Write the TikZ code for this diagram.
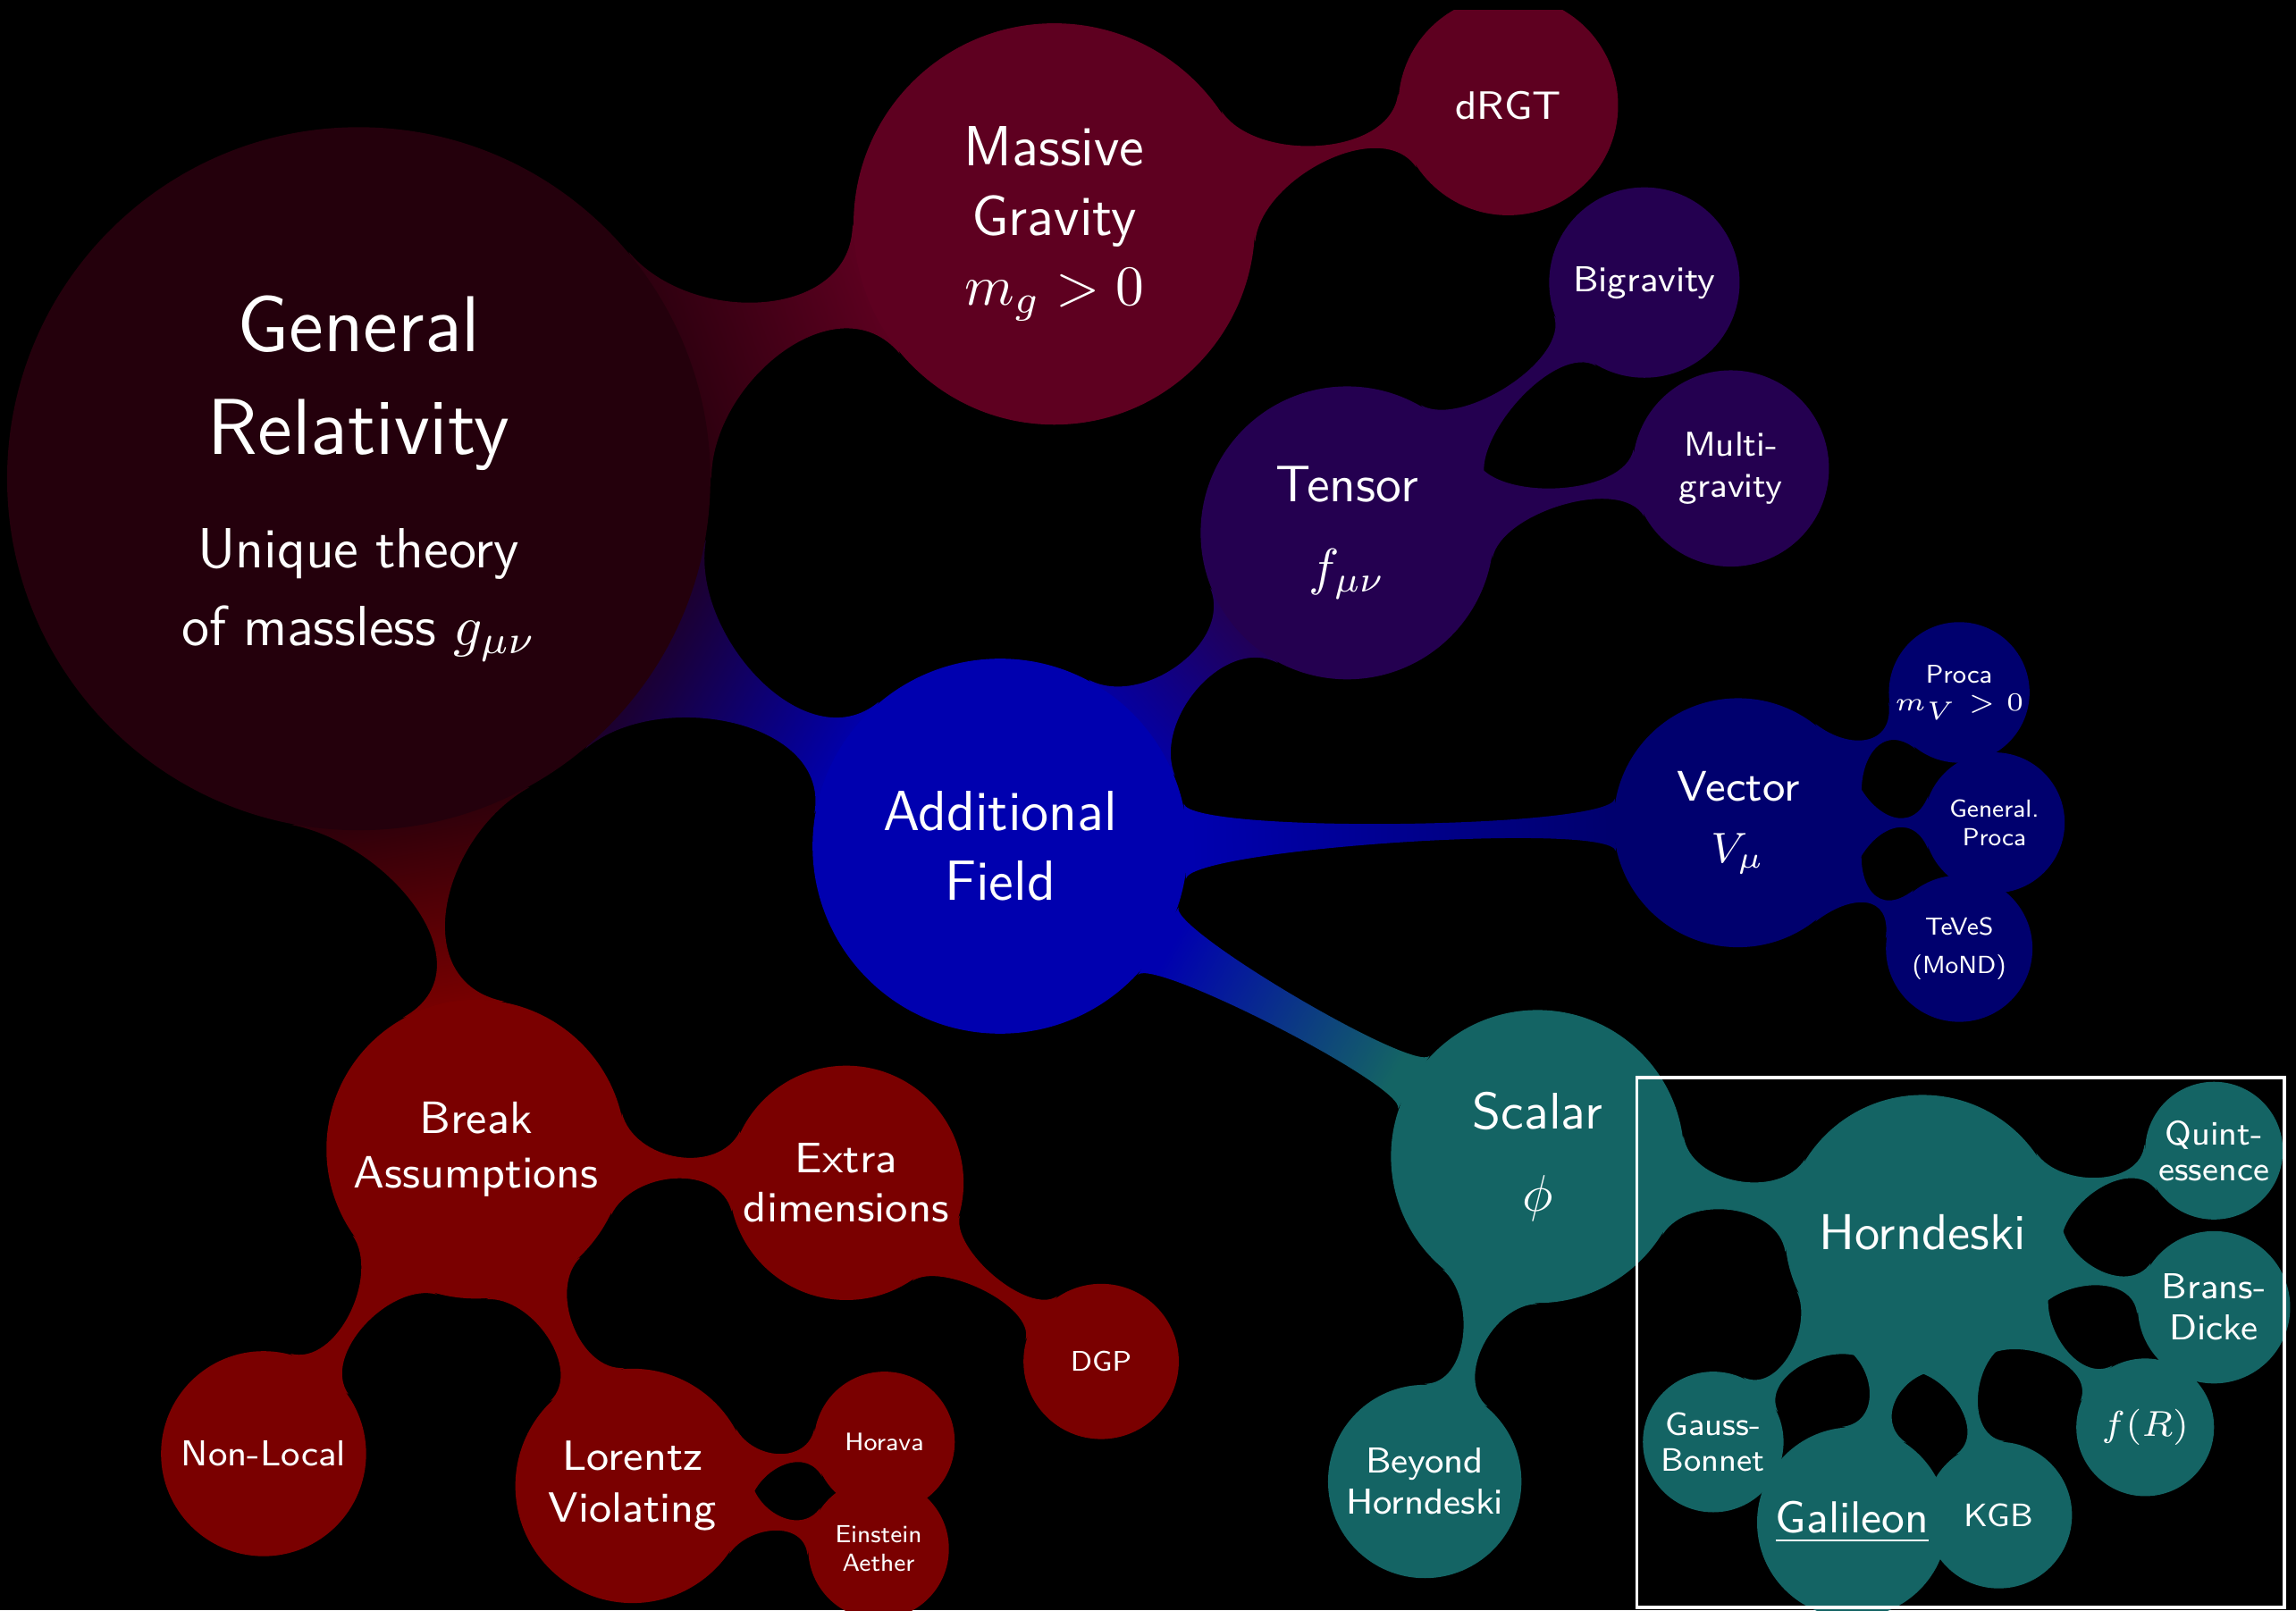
\documentclass[tikz,border=0pt]{standalone}
\IfFileExists{fix-cm.sty}{\usepackage{fix-cm}}{}
\usepackage{fontspec}
\usepackage{tikz}

\pgfdeclarelayer{bg}
\pgfdeclarelayer{fg}
\pgfsetlayers{bg,main,fg}

\definecolor{grcol}{RGB}{36,0,12}
\definecolor{mgcol}{RGB}{94,0,32}
\definecolor{tcol}{RGB}{36,0,80}
\definecolor{afcol}{RGB}{0,0,175}
\definecolor{vcol}{RGB}{0,0,110}
\definecolor{scol}{RGB}{20,100,100}
\definecolor{bcol}{RGB}{122,0,0}

\tikzset{
  bub/.style={circle, fill=#1, text=white, align=center, inner sep=0pt},
  fs/.style 2 args={font=\sffamily\fontsize{#1}{#2}\selectfont},
}

% bar between two circles: from, to, colour from, colour to, spread angle, pull
\newcommand\joint[6]{%
  \pgfmathanglebetweenpoints{\pgfpointanchor{#1}{center}}{\pgfpointanchor{#2}{center}}%
  \let\jt\pgfmathresult
  \pgfmathtruncatemacro\ja{\jt+#5}%
  \pgfmathtruncatemacro\jb{\jt-#5}%
  \pgfmathtruncatemacro\jc{\jt+180-#5}%
  \pgfmathtruncatemacro\jd{\jt+180+#5}%
  \pgfmathsetmacro\js{\jt+90}%
  \path[left color=#3, right color=#4, shading angle=\js]
    (#1.\ja) .. controls +(\ja-90:#6) and +(\jc+90:#6) .. (#2.\jc)
    -- (#2.\jd) .. controls +(\jd-90:#6) and +(\jb+90:#6) .. (#1.\jb)
    -- cycle;
}

\begin{document}
\begin{tikzpicture}[x=0.01cm, y=-0.01cm]
  \useasboundingbox (0,0) rectangle (1568,1100);
  \begin{pgfonlayer}{bg}
    \fill[black] (0,0) rectangle (1568,1100);
  \end{pgfonlayer}

  % root
  \node[bub=grcol, minimum size=4.8cm, text width=4cm, font=\sffamily] (gr) at (245,327)
    {{\fontsize{15.4}{20}\selectfont General\\Relativity\par}\vspace{7pt}
     {\fontsize{11}{15}\selectfont Unique theory\\of massless $g_{\mu\nu}$\par}};

  % massive gravity
  \node[bub=mgcol, minimum size=2.74cm, fs={11}{13.5}] (mg) at (720,153) {Massive\\Gravity\\$m_g>0$};
  \node[bub=mgcol, minimum size=1.5cm, fs={7.7}{9}] (drgt) at (1030,72) {dRGT};

  % additional field
  \node[bub=afcol, minimum size=2.56cm, fs={11}{13.5}] (af) at (683,578) {Additional\\Field};
  \node[bub=tcol, minimum size=2cm, fs={10}{13}] (tensor) at (920,364) {Tensor\\[3pt]$f_{\mu\nu}$};
  \node[bub=tcol, minimum size=1.3cm, fs={7}{8.5}] (bigrav) at (1123,193) {Bigravity};
  \node[bub=tcol, minimum size=1.34cm, fs={6.7}{8}] (multi) at (1182,320) {Multi-\\gravity};
  \node[bub=vcol, minimum size=1.7cm, fs={8.3}{10}] (vector) at (1187,562) {Vector\\[2pt]$V_\mu$};
  \node[bub=vcol, minimum size=0.96cm, fs={5}{5.5}] (proca) at (1338,473) {Proca\\$m_V>0$};
  \node[bub=vcol, minimum size=0.96cm, fs={4.8}{5.5}] (gproca) at (1362,562) {General.\\Proca};
  \node[bub=vcol, minimum size=1cm, fs={4.8}{7.5}] (teves) at (1338,648) {TeVeS\\(MoND)};
  \node[bub=scol, minimum size=2cm, fs={10}{13}] (scalar) at (1050,790) {Scalar\\[3pt]$\phi$};
  \node[bub=scol, minimum size=1.32cm, fs={7}{8}] (beyond) at (973,1012) {Beyond\\Horndeski};
  \node[bub=scol, minimum size=1.88cm, fs={9.8}{12}] (horn) at (1313,842) {Horndeski};
  \node[bub=scol, minimum size=0.94cm, fs={6.6}{7}] (quint) at (1512,786) {Quint-\\essence};
  \node[bub=scol, minimum size=1.04cm, fs={7}{8}] (brans) at (1512,893) {Brans-\\Dicke};
  \node[bub=scol, minimum size=0.94cm, fs={7}{8}] (fr) at (1465,975) {$f(R)$};
  \node[bub=scol, minimum size=1cm, fs={6.3}{7}] (kgb) at (1365,1035) {KGB};
  \node[bub=scol, minimum size=1.3cm, fs={8.7}{10}] (gal) at (1265,1040) {\underline{Galileon}};
  \node[bub=scol, minimum size=0.96cm, fs={6.3}{7}] (gb) at (1170,985) {Gauss-\\Bonnet};

  % break assumptions
  \node[bub=bcol, minimum size=2.04cm, fs={8.8}{10.5}] (break) at (325,785) {Break\\Assumptions};
  \node[bub=bcol, minimum size=1.6cm, fs={8.3}{9.5}] (extra) at (578,808) {Extra\\dimensions};
  \node[bub=bcol, minimum size=1.06cm, fs={5.5}{6.5}] (dgp) at (752,930) {DGP};
  \node[bub=bcol, minimum size=1.4cm, fs={7}{8}] (nonlocal) at (180,993) {Non-Local};
  \node[bub=bcol, minimum size=1.6cm, fs={8.2}{10}] (lorentz) at (432,1015) {Lorentz\\Violating};
  \node[bub=bcol, minimum size=0.96cm, fs={4.9}{5.5}] (horava) at (604,985) {Horava};
  \node[bub=bcol, minimum size=0.96cm, fs={4.8}{5.5}] (aether) at (600,1058) {Einstein\\Aether};

  % connections
  \begin{pgfonlayer}{bg}
    \joint{gr}{mg}{grcol}{mgcol}{20}{.66cm}
    \joint{gr}{af}{grcol}{afcol}{20}{.65cm}
    \joint{gr}{break}{grcol}{bcol}{20}{.69cm}
    \joint{mg}{drgt}{mgcol}{mgcol}{20}{.43cm}
    \joint{af}{tensor}{afcol}{tcol}{20}{.41cm}
    \joint{af}{vector}{afcol}{vcol}{12}{.21cm}
    \joint{af}{scalar}{afcol}{scol}{12}{.16cm}
    \joint{tensor}{bigrav}{tcol}{tcol}{20}{.32cm}
    \joint{tensor}{multi}{tcol}{tcol}{20}{.32cm}
    \joint{vector}{proca}{vcol}{vcol}{22}{.3cm}
    \joint{vector}{gproca}{vcol}{vcol}{22}{.3cm}
    \joint{vector}{teves}{vcol}{vcol}{22}{.31cm}
    \joint{scalar}{beyond}{scol}{scol}{20}{.3cm}
    \joint{scalar}{horn}{scol}{scol}{20}{.33cm}
    \joint{horn}{quint}{scol}{scol}{20}{.29cm}
    \joint{horn}{brans}{scol}{scol}{20}{.28cm}
    \joint{horn}{fr}{scol}{scol}{20}{.27cm}
    \joint{horn}{kgb}{scol}{scol}{20}{.26cm}
    \joint{horn}{gal}{scol}{scol}{20}{.26cm}
    \joint{horn}{gb}{scol}{scol}{20}{.27cm}
    \joint{break}{extra}{bcol}{bcol}{20}{.34cm}
    \joint{break}{nonlocal}{bcol}{bcol}{20}{.33cm}
    \joint{break}{lorentz}{bcol}{bcol}{20}{.31cm}
    \joint{extra}{dgp}{bcol}{bcol}{20}{.24cm}
    \joint{lorentz}{horava}{bcol}{bcol}{20}{.25cm}
    \joint{lorentz}{aether}{bcol}{bcol}{20}{.24cm}
  \end{pgfonlayer}

  \begin{pgfonlayer}{fg}
    % top edge of the slide
    \fill[black] (0,0) rectangle (1568,7);
    % frame round Horndeski
    \draw[white, line width=0.6pt] (1118,736) rectangle (1560,1098);
  \end{pgfonlayer}
\end{tikzpicture}
\end{document}
